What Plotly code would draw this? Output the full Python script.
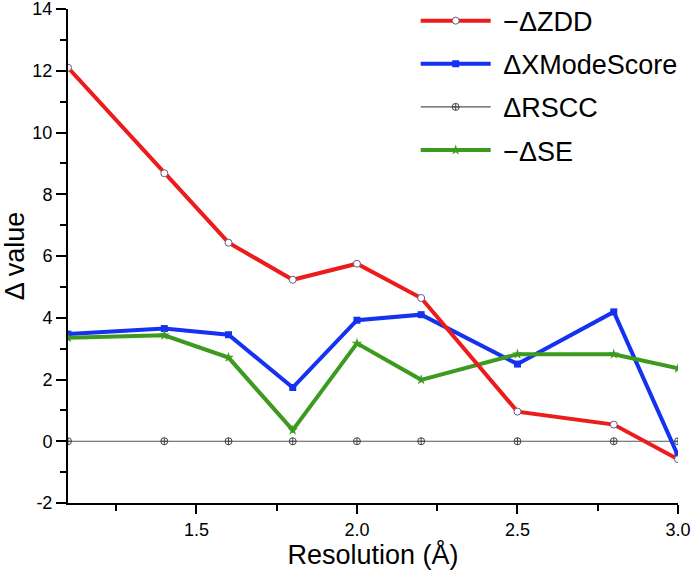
import plotly.graph_objects as go

resolution = [1.1, 1.4, 1.6, 1.8, 2.0, 2.2, 2.5, 2.8, 3.0]
neg_dzdd = [12.1, 8.68, 6.43, 5.23, 5.75, 4.64, 0.96, 0.54, -0.58]
d_xmodescore = [3.47, 3.65, 3.45, 1.74, 3.92, 4.10, 2.50, 4.19, -0.47]
d_rscc = [0, 0, 0, 0, 0, 0, 0, 0, 0]
neg_dse = [3.35, 3.43, 2.71, 0.36, 3.17, 1.99, 2.82, 2.82, 2.36]

y_tickvals = [-2, 0, 2, 4, 6, 8, 10, 12, 14]
y_ticktext = ["-2", "0", "2", "4", "6", "8", "10", "12", "14"]
x_tickvals = [1.5, 2.0, 2.5, 3.0]
x_ticktext = ["1.5", "2.0", "2.5", "3.0"]

FONT = "Arial, Liberation Sans, sans-serif"
PAD = "\u00a0"

fig = go.Figure()

fig.add_trace(go.Scatter(
    x=resolution, y=d_rscc, name=PAD + "ΔRSCC", mode="lines+markers",
    line=dict(color="#555555", width=1.2),
    marker=dict(symbol="circle-cross-open", size=7, color="#444444", line=dict(width=1)),
    legendrank=3, legendgroup="c"))
fig.add_trace(go.Scatter(
    x=resolution, y=d_xmodescore, name=PAD + "ΔXModeScore", mode="lines+markers",
    line=dict(color="#1432f0", width=4),
    marker=dict(symbol="square", size=7, color="#1432f0"),
    legendrank=2, legendgroup="b"))
fig.add_trace(go.Scatter(
    x=resolution, y=neg_dse, name=PAD + "−ΔSE", mode="lines+markers",
    line=dict(color="#3c9a1e", width=4),
    marker=dict(symbol="star", size=8, color="#3c9a1e"),
    legendrank=4, legendgroup="d"))
fig.add_trace(go.Scatter(
    x=resolution, y=neg_dzdd, name=PAD + "−ΔZDD", mode="lines+markers",
    line=dict(color="#ec1c1c", width=4),
    marker=dict(symbol="circle", size=7, color="white", line=dict(color="#6a5a7a", width=1)),
    legendrank=1, legendgroup="a"))

fig.update_layout(
    width=692, height=570,
    margin=dict(l=68, r=14, t=9, b=67, autoexpand=False),
    paper_bgcolor="white", plot_bgcolor="white",
    font=dict(family=FONT, color="black", size=18),
    showlegend=True,
    legend=dict(x=0.57, y=1.025, xanchor="left", yanchor="top",
                font=dict(size=27, family=FONT), tracegroupgap=5,
                bgcolor="rgba(0,0,0,0)", itemwidth=70),
)

fig.update_xaxes(
    range=[1.1, 3.0], tickmode="array", tickvals=x_tickvals, ticktext=x_ticktext,
    showline=True, linecolor="black", linewidth=2, mirror=False,
    ticks="outside", ticklen=9, tickwidth=1.5, tickcolor="black",
    minor=dict(dtick=0.25, tick0=1.0, ticks="outside", ticklen=6, tickwidth=1.5, tickcolor="black"),
    showgrid=False, zeroline=False, ticklabeloverflow="allow",
    tickfont=dict(size=18),
    title=dict(text="Resolution (Å)", font=dict(size=27), standoff=2),
)
fig.update_yaxes(
    range=[-2, 14], tickmode="array", tickvals=y_tickvals, ticktext=y_ticktext,
    showline=True, linecolor="black", linewidth=2, mirror=False,
    ticks="outside", ticklen=10, tickwidth=1.5, tickcolor="black",
    minor=dict(dtick=1, tick0=0, ticks="outside", ticklen=6, tickwidth=1.5, tickcolor="black"),
    showgrid=False, zeroline=False, ticklabeloverflow="allow",
    tickfont=dict(size=18),
    title=dict(text="Δ value", font=dict(size=27), standoff=8),
)

fig.write_html("out.html", config={"displayModeBar": False},
               post_script="document.body.style.margin='0';")
